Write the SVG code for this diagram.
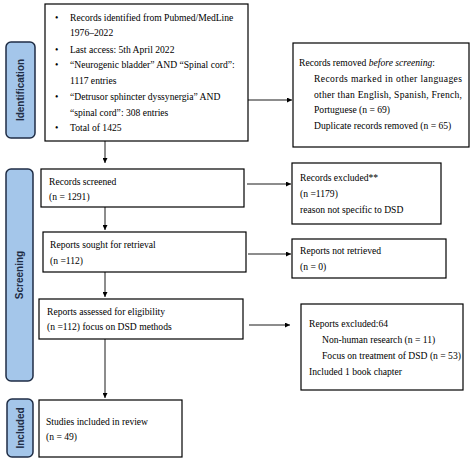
<svg xmlns="http://www.w3.org/2000/svg" width="474" height="465" viewBox="0 0 474 465">
<defs>
<marker id="ah" viewBox="0 0 10 10" refX="10" refY="5" markerWidth="5" markerHeight="5" markerUnits="userSpaceOnUse" orient="auto">
<path d="M0,0 L10,5 L0,10 z" fill="#000"/>
</marker>
</defs>
<style>
.box{fill:#fff;stroke:#000;stroke-width:1.2}
.side{fill:#a4c6ea;stroke:#1f2d45;stroke-width:1.5}
.t{font-family:"Liberation Serif","Times New Roman",serif;font-size:9.6px;fill:#000}
.s{font-family:"Liberation Sans",Arial,sans-serif;font-size:10px;font-weight:bold;fill:#1f2d45}
.c{stroke:#000;stroke-width:0.9;fill:none;marker-end:url(#ah)}
</style>
<rect width="474" height="465" fill="#fff"/>
<g id="side-identification">
<rect class="side" x="6" y="42" width="29" height="96" rx="5"/>
<text class="s" transform="translate(24,90) rotate(-90)" text-anchor="middle">Identification</text>
</g>
<g id="side-screening">
<rect class="side" x="6" y="169" width="27" height="212" rx="5"/>
<text class="s" transform="translate(23,275) rotate(-90)" text-anchor="middle">Screening</text>
</g>
<g id="side-included">
<rect class="side" x="7" y="399" width="26" height="58" rx="5"/>
<text class="s" transform="translate(24,428) rotate(-90)" text-anchor="middle">Included</text>
</g>
<g id="identified">
<rect class="box" x="45" y="4" width="203" height="137"/>
<g class="t">
<text x="55" y="21">•</text><text x="70" y="21">Records identified from Pubmed/MedLine</text>
<text x="70" y="36">1976–2022</text>
<text x="55" y="53">•</text><text x="70" y="53">Last access: 5th April 2022</text>
<text x="55" y="68">•</text><text x="70" y="68">“Neurogenic bladder” AND “Spinal cord”:</text>
<text x="70" y="84">1117 entries</text>
<text x="55" y="100">•</text><text x="70" y="100">“Detrusor sphincter dyssynergia” AND</text>
<text x="70" y="116">“spinal cord”: 308 entries</text>
<text x="55" y="131">•</text><text x="70" y="131">Total of 1425</text>
</g>
</g>
<g id="removed">
<rect class="box" x="293" y="43" width="176" height="104"/>
<g class="t">
<text x="299" y="66">Records removed <tspan font-style="italic">before screening</tspan>:</text>
<text x="314" y="82" textLength="148" lengthAdjust="spacing">Records marked in other languages</text>
<text x="314" y="98" textLength="148" lengthAdjust="spacing">other than English, Spanish, French,</text>
<text x="314" y="113">Portuguese (n = 69)</text>
<text x="314" y="129">Duplicate records removed (n = 65)</text>
</g>
</g>
<g id="screened">
<rect class="box" x="41" y="169" width="203" height="38"/>
<g class="t"><text x="49" y="185">Records screened</text><text x="49" y="200">(n = 1291)</text></g>
</g>
<g id="excluded">
<rect class="box" x="292" y="163" width="149" height="61"/>
<g class="t"><text x="300" y="181">Records excluded**</text><text x="300" y="197">(n =1179)</text><text x="300" y="213">reason not specific to DSD</text></g>
</g>
<g id="sought">
<rect class="box" x="43" y="232" width="203" height="40"/>
<g class="t"><text x="50" y="248">Reports sought for retrieval</text><text x="50" y="264">(n =112)</text></g>
</g>
<g id="not-retrieved">
<rect class="box" x="292" y="239" width="154" height="39"/>
<g class="t"><text x="300" y="254">Reports not retrieved</text><text x="300" y="270">(n = 0)</text></g>
</g>
<g id="assessed">
<rect class="box" x="39" y="299" width="204" height="40"/>
<g class="t"><text x="47" y="315">Reports assessed for eligibility</text><text x="47" y="330">(n =112) focus on DSD methods</text></g>
</g>
<g id="reports-excluded">
<rect class="box" x="301" y="304" width="162" height="86"/>
<g class="t">
<text x="309" y="327">Reports excluded:64</text>
<text x="322" y="343">Non-human research (n = 11)</text>
<text x="322" y="359">Focus on treatment of DSD (n = 53)</text>
<text x="309" y="375">Included 1 book chapter</text>
</g>
</g>
<g id="included">
<rect class="box" x="39" y="400" width="143" height="57"/>
<g class="t"><text x="46" y="425">Studies included in review</text><text x="46" y="440">(n = 49)</text></g>
</g>
<g id="connectors">
<line class="c" x1="105" y1="141" x2="105" y2="163"/>
<line class="c" x1="105" y1="207" x2="105" y2="230"/>
<line class="c" x1="105" y1="272" x2="105" y2="297"/>
<line class="c" x1="105" y1="339" x2="105" y2="398"/>
<line class="c" x1="248" y1="100" x2="292" y2="100"/>
<line class="c" x1="247" y1="184" x2="291" y2="184"/>
<line class="c" x1="248" y1="254" x2="291" y2="254"/>
<line class="c" x1="249" y1="325" x2="290" y2="325"/>
</g>
</svg>
